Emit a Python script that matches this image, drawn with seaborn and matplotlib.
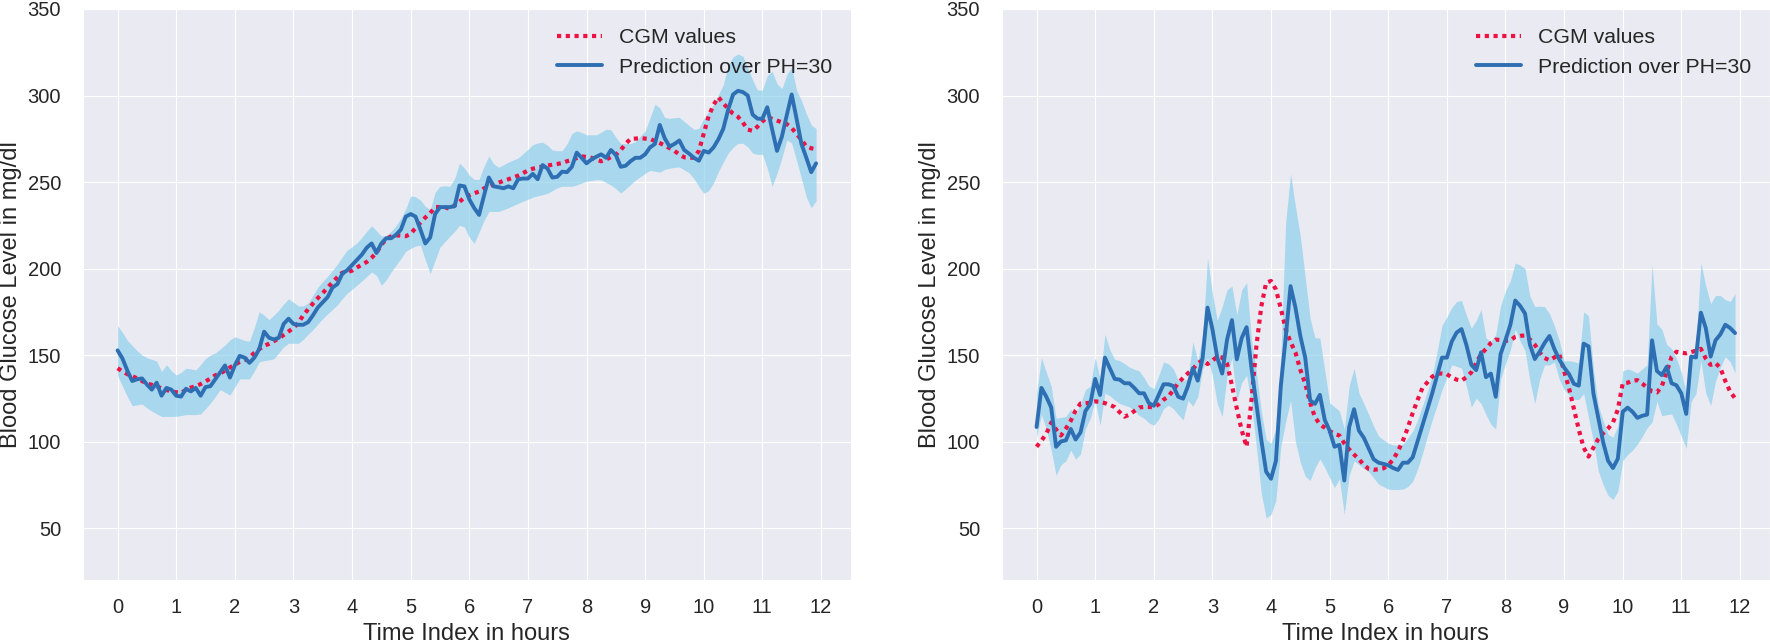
import numpy as np
import matplotlib
matplotlib.use('Agg')
import matplotlib.pyplot as plt
import seaborn as sns

# one sample every 5 minutes over 12 hours
hours = np.arange(144) / 12

# left panel
cgm_a = [142.4, 140.5, 139, 137.8, 136.5, 135, 133.5, 132.8, 131.8, 130.8, 129.8, 129,
         128.5, 128.2, 129.8, 131.2, 132, 133.2, 134.7, 136.5, 138.3, 139.4, 141, 142.8,
         144.5, 146, 147, 148.6, 151.3, 153.4, 155.3, 156.5, 158, 159.7, 161.6, 163.6,
         165.7, 168.5, 173, 176.4, 179.8, 182.9, 185.8, 189, 192, 195, 197.6, 197.9,
         198.8, 200.6, 202.2, 203.8, 206.2, 209.2, 213.6, 217.3, 218.5, 219.2, 219, 218.7,
         220, 223.5, 226.5, 229.5, 232, 235.6, 235.5, 235.4, 234.5, 236.5, 238.6, 241,
         242.3, 243.5, 244.5, 246.3, 247.4, 248.7, 249.6, 250.7, 251.6, 252.6, 253.7, 255.1,
         256.7, 257.7, 258.3, 258.9, 259.5, 260, 260.4, 261, 262, 262.9, 263.8, 264.8,
         264.5, 264, 263, 262, 263, 264.4, 265.7, 268.5, 272, 275, 275.1, 275.3,
         275.1, 274.9, 273.7, 272.5, 271.1, 269.6, 268, 265.9, 264.3, 264.1, 264, 268,
         278, 288, 294.6, 299, 295.5, 292.3, 289.5, 287.7, 284.4, 280.3, 279.6, 282,
         285, 287.5, 286.5, 285.5, 284.5, 283.5, 281.2, 277.8, 274.4, 270.5, 269.5, 269]
pred_a = [152.7, 148, 141, 135, 136, 136.5, 133, 130, 134, 126.5, 131, 130,
          126.5, 126, 130.5, 129, 131, 126.5, 131.5, 132, 136, 140, 144, 137,
          144, 149.5, 148.5, 145.5, 148.5, 153.5, 163.5, 160, 159, 160, 168, 171,
          168, 167.5, 167.5, 169, 173, 177.5, 180.5, 183.5, 189, 191, 197, 199,
          202, 205, 208, 212, 214.5, 209, 214.5, 217.5, 217.5, 219.5, 222.5, 230,
          231.5, 230, 222.5, 214.5, 218, 231.5, 235.5, 235.5, 235.5, 236, 248, 247.5,
          240, 235, 231, 242, 252.6, 247.5, 247, 246.4, 247.5, 246.4, 251.6, 252,
          252, 254.7, 251.6, 259.8, 257.8, 252.6, 253, 256, 255.7, 258.8, 267, 264,
          260.8, 263, 264.6, 266, 264, 268.5, 265.6, 258.8, 259.4, 262, 264, 264,
          266, 270, 272, 283, 275.3, 270.5, 272, 274, 268.5, 266.4, 264, 262.3,
          268, 267, 270, 274.7, 280.8, 291.8, 300.6, 302.7, 302, 300, 289, 286.6,
          286.6, 293.2, 280.4, 268, 276.3, 288.7, 300.6, 286.6, 272, 264, 255.7, 260.8]
lo_a = [138, 132, 126, 120.7, 121.2, 121.7, 119.5, 117.6, 116, 114.5, 114.5, 114.5,
        114.6, 115, 115.6, 115.6, 115.6, 116, 119, 122.2, 126, 130, 128.4, 126.9,
        131.5, 136.2, 136.2, 136.2, 140.8, 146, 146.8, 147.2, 147.8, 151.3, 154.7, 156.8,
        156.8, 156.8, 159, 162, 164.7, 168, 171, 173.8, 176.4, 179, 182.5, 185.8,
        188, 190.4, 192.8, 195.4, 198, 196, 190.3, 193.5, 198, 202, 205.8, 210,
        211.6, 213, 213.5, 205, 197, 204.7, 212.4, 215.5, 218.6, 221.5, 225, 224,
        218, 214.5, 221, 227.7, 233, 233, 233, 234, 235.1, 236.4, 237.7, 238.9,
        240, 241.2, 242, 242.7, 243.5, 245, 246.6, 247.5, 247.5, 247.5, 248.3, 249.4,
        250.5, 250.9, 251.3, 251.3, 249.7, 248.2, 246.2, 243.6, 246, 248.5, 251.1, 253,
        255, 256.7, 256.2, 255.7, 257.3, 258, 258.4, 258.7, 257, 255.3, 252, 247.4,
        243.5, 245, 249.5, 256, 261.5, 266.7, 270, 272.3, 272.4, 270.3, 266.7, 266,
        266, 258, 247.5, 255, 264, 274.3, 272.5, 262.5, 252, 241.3, 235.1, 239.2]
hi_a = [167, 163, 158.5, 155.5, 152.5, 150, 148.5, 147.5, 146.5, 140.5, 144.4, 141,
        138.5, 140, 142.4, 142, 141.4, 144.5, 148, 150, 151.2, 153.5, 155.8, 158.8,
        160.5, 159.5, 158.5, 158, 166, 175, 173, 170.5, 173, 176, 179.5, 182.5,
        180.5, 178.4, 178.4, 180, 184.5, 189.3, 192.5, 195.5, 199, 202.5, 206.8, 210.6,
        212.6, 214.8, 218, 221.5, 224.8, 221.8, 218.8, 219, 221.5, 224.8, 229, 234.5,
        242, 241.5, 239.5, 236, 234, 244, 247.5, 247.8, 247.5, 252, 261, 258,
        254, 251.5, 251.5, 259, 265, 260.5, 258.5, 260, 261.5, 262.7, 263.9, 266.4,
        268.9, 271.5, 272.6, 273, 271.2, 268.5, 268.1, 268.1, 272, 278, 279.6, 278.6,
        277.3, 277.3, 277.3, 278.8, 280.5, 280.2, 275.8, 272.2, 272.2, 272.2, 273.4, 276.4,
        279.6, 287, 295, 292.8, 287.3, 286.8, 287.2, 287.4, 285, 282.7, 280.4, 281,
        286.7, 290.8, 294.8, 300.5, 306.2, 317.5, 322.2, 324, 322.8, 316, 309, 303.1,
        303.1, 311.5, 314, 306.8, 304, 312, 316.5, 303.1, 297, 289.5, 283, 280.8]

# right panel
cgm_b = [97, 100.5, 104.5, 111, 107, 103.5, 107.5, 112, 118, 122, 122.1, 122.5,
         123.2, 123, 122.2, 121.2, 119.9, 117, 114.4, 115.5, 117.6, 119.7, 120, 120,
         119.8, 121.5, 124.2, 126.1, 129.8, 133.8, 136.8, 139.5, 141.9, 145.3, 147, 144.8,
         146.8, 149.1, 148.6, 145, 132.5, 119, 106.5, 97, 124, 155, 178, 191.8,
         192.8, 187.9, 177, 165, 157.5, 151.5, 141.5, 133.5, 122.5, 114, 110, 108,
         106, 104.5, 103.5, 99, 95.5, 92.5, 89.8, 86.5, 84.2, 83.7, 84, 84.5,
         86.5, 89.5, 94.5, 100.5, 108, 116.5, 124, 131, 134.2, 137.5, 139.3, 139.3,
         139, 137, 135.8, 135.2, 137.2, 140, 145.5, 150.5, 153.5, 157, 158.9, 158.7,
         158.2, 158.5, 160.5, 161.1, 161.3, 159, 156, 151.5, 148.3, 147, 148.6, 150.5,
         140.8, 131, 119, 107, 96.5, 91.3, 96.5, 101.5, 104.8, 107.5, 111, 118.5,
         133.7, 134, 135.2, 135.5, 133.5, 131.2, 129, 128.4, 132, 140, 149, 151.9,
         151.3, 151, 151.7, 152.5, 153.6, 148, 144.3, 145.4, 142.5, 135, 128.8, 125]
pred_b = [108.4, 131, 125.9, 119.7, 97, 100.1, 100.7, 107.3, 101.2, 105.3, 117.6, 121.8,
          136.2, 126.9, 148.5, 142.4, 136.2, 135.8, 133.7, 133.7, 131, 127.9, 127.9, 122.2,
          120.7, 126.9, 133.1, 133.1, 132.1, 125.9, 124.8, 132.1, 142.4, 135.2, 148.5, 177.4,
          165, 148.5, 139.3, 158.9, 170.2, 147.5, 159.9, 166.1, 142.4, 121.8, 101.2, 82.6,
          78.5, 88.8, 132, 160, 189.8, 177.4, 161, 148.5, 123.8, 121.8, 127, 112.5,
          106.3, 97, 98.1, 77.5, 108.4, 118.7, 106.3, 102.2, 96, 89.8, 87.8, 87.1,
          86.3, 84.7, 83.6, 87.8, 87.8, 90.9, 100.1, 109.4, 118.7, 127.9, 138.2, 148.5,
          148.5, 157.8, 163, 165, 155.8, 144.4, 141.3, 151.6, 137.2, 139.3, 125.9, 150.6,
          158.7, 167.5, 181.5, 178.4, 174, 156, 147.7, 152, 157, 161, 153.5, 147.5,
          142.8, 139, 133.4, 132.3, 156.6, 155, 127.8, 113.7, 99.5, 88.9, 84.7, 90.1,
          117.2, 119.6, 117.2, 113.7, 114.9, 115.6, 158.5, 140.8, 138.4, 143.2, 133.7, 132.5,
          127.8, 116, 149.1, 148.6, 174.5, 165.6, 149.1, 158.5, 162, 167.5, 165.6, 162.7]
lo_b = [102.2, 115.6, 107.3, 95, 80.5, 86.7, 88.8, 95, 89.8, 92.9, 107.3, 113.5,
        123.8, 109.4, 128, 126.5, 124, 122, 121, 120, 118, 115, 113.5, 110.8,
        109.4, 113, 119, 121, 119, 115.6, 112.5, 123.8, 120.5, 126, 142, 148.5,
        138.2, 121.8, 114.5, 138.2, 148.5, 123.8, 134.1, 138.2, 121.8, 97, 70.3, 55.8,
        57.9, 66.1, 97, 111.5, 123.8, 100, 88, 80, 77.5, 84.7, 90, 85,
        79, 73.4, 78.5, 57.9, 80.5, 88.8, 86.7, 84.5, 82.6, 79, 75.4, 74,
        72.5, 72.3, 72.3, 72.5, 74, 77, 84, 93, 103, 112.5, 121, 130,
        137, 144.4, 143.5, 142.4, 132, 120, 125, 122, 115.6, 110, 107.3, 136.2,
        145, 153, 165, 158, 152.5, 135, 122, 136, 144.3, 144.3, 146, 136.1,
        130, 127, 124.3, 124.3, 127.8, 113.7, 100, 83, 75, 68.9, 66.5, 71.2,
        89, 92.5, 95, 98.5, 103, 108, 111.3, 123.1, 114.9, 115.5, 116, 110,
        103, 96, 123.1, 127.8, 146.7, 128, 120.8, 134.9, 143, 149.1, 146, 139.6]
hi_b = [128, 148.5, 140, 132, 113.5, 114, 114.5, 118.7, 115.6, 121.8, 130, 132.1,
        148.5, 136.2, 162, 153, 147.5, 146.8, 145, 143, 141.8, 140.8, 137, 132.1,
        130.6, 138, 146, 145, 142, 135.5, 135, 136.5, 157.8, 146.5, 161, 206.2,
        185.6, 170, 178, 187.7, 189.8, 173.3, 187.7, 191.8, 158.9, 140.3, 117.7, 101.2,
        99.1, 107.3, 148.5, 226.8, 254.7, 236, 218.6, 195, 171.2, 159.9, 159.9, 141,
        122.5, 120, 117.7, 107.3, 132.1, 142.4, 128, 122, 115.6, 109, 103.2, 101,
        99, 98.1, 98.1, 98.5, 102, 106, 112.5, 120.5, 129, 138.2, 152, 167.1,
        172, 177.4, 181, 181.5, 173, 165.5, 170, 176.4, 160, 157.5, 162, 178.5,
        187, 193, 203.2, 202, 200, 184, 178, 178.2, 178, 174, 167, 158.5,
        146.7, 146.7, 146.2, 145.5, 175, 172.6, 142, 120.8, 112, 104.2, 102.5, 109,
        140.8, 142, 141, 139.6, 142, 144.3, 202.1, 168, 165, 156.1, 153.8, 148,
        140, 128, 146.7, 157.3, 203.3, 190, 179.7, 184.4, 184.4, 182, 181, 185.6]

xticks = list(range(13))
yticks = [50, 100, 150, 200, 250, 300, 350]

sns.set_style('darkgrid')
plt.rcParams['font.family'] = ['Liberation Sans', 'DejaVu Sans']

fig, axes = plt.subplots(1, 2, figsize=(17.7, 6.42), dpi=100)
fig.subplots_adjust(left=0.0467, right=1.0, top=0.986, bottom=0.0966, wspace=0.196)

panels = [(cgm_a, pred_a, lo_a, hi_a), (cgm_b, pred_b, lo_b, hi_b)]
for ax, (cgm, pred, lo, hi) in zip(axes, panels):
    ax.fill_between(hours, lo, hi, color='skyblue', alpha=0.65, linewidth=0)
    sns.lineplot(x=hours, y=cgm, ax=ax, color='#EE1144', linewidth=3.0,
                 linestyle=(0, (1, 1.1)), label='CGM values')
    sns.lineplot(x=hours, y=pred, ax=ax, color='#2E6FB3', linewidth=2.8,
                 label='Prediction over PH=30')
    ax.set_xticks(xticks)
    ax.set_yticks(yticks)
    ax.set_ylim(20, 350)
    ax.tick_params(axis='x', labelsize=14.5, pad=9.5)
    ax.tick_params(axis='y', labelsize=14.5, pad=12)
    ax.set_xlabel('Time Index in hours', fontsize=17)
    ax.set_ylabel('Blood Glucose Level in mg/dl', fontsize=17, labelpad=4)
    ax.legend(loc='upper right', fontsize=15.3, frameon=False,
              handlelength=2.1, handletextpad=0.8, labelspacing=0.5)

fig.savefig('out.png', dpi=100)
plt.close(fig)
